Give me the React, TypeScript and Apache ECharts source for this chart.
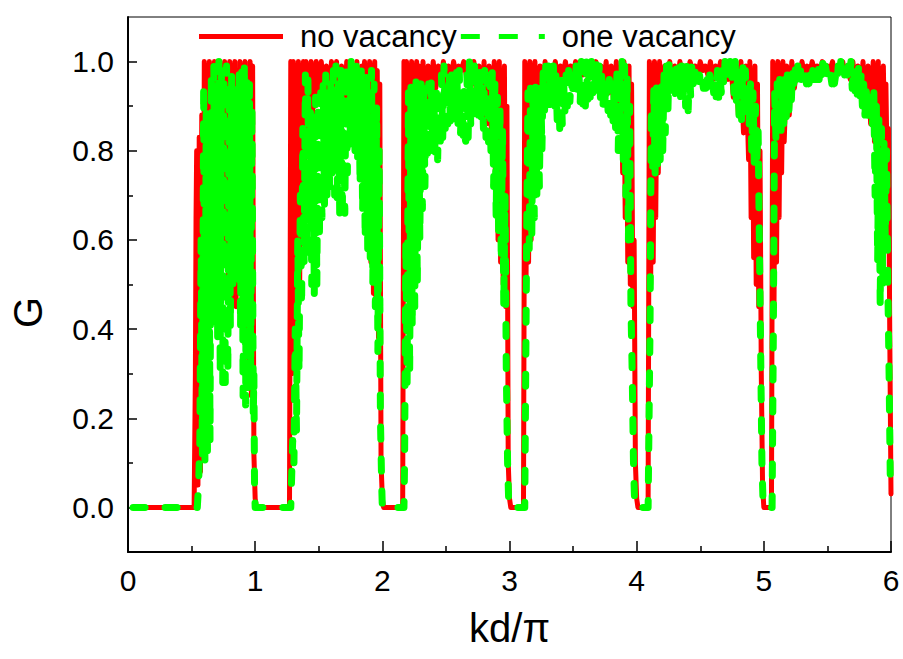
import React, { useEffect, useRef } from "react";
import * as echarts from "echarts";

// x = kd/pi, y = G
const noVacancyZero: [number, number][] = [[0.04, 0], [0.52, 0]];
const noVacancyBand1: [number, number][] = [
  [0.53, 0.3], [0.535, 0.65], [0.54, 0.8], [0.55, 0.05], [0.56, 0.83], [0.57, 0.08], [0.58, 0.88], [0.59, 0.15],
  [0.6, 1.0], [0.61, 0.3], [0.62, 0.99], [0.63, 0.4], [0.64, 1.0], [0.65, 0.48], [0.66, 0.99], [0.67, 0.5],
  [0.68, 1.0], [0.69, 0.45], [0.7, 0.98], [0.71, 0.5], [0.72, 1.0], [0.73, 0.55], [0.74, 0.99], [0.75, 0.6],
  [0.76, 1.0], [0.77, 0.55], [0.78, 0.98], [0.79, 0.5], [0.8, 1.0], [0.81, 0.5], [0.82, 0.99], [0.83, 0.47],
  [0.84, 1.0], [0.85, 0.45], [0.86, 0.98], [0.87, 0.5], [0.88, 1.0], [0.89, 0.55], [0.9, 0.99], [0.91, 0.45],
  [0.92, 1.0], [0.93, 0.35], [0.94, 0.98], [0.95, 0.3], [0.96, 1.0], [0.97, 0.25], [0.98, 0.99], [0.99, 0.12],
  [1.0, 0.02], [1.01, 0], [1.27, 0],
];
const noVacancyBand2: [number, number][] = [
  [1.28, 1.0], [1.29, 0.3], [1.3, 1.0], [1.31, 0.4], [1.32, 0.99], [1.33, 0.45], [1.34, 1.0], [1.35, 0.5],
  [1.36, 0.99], [1.37, 0.6], [1.38, 1.0], [1.39, 0.75], [1.4, 1.0], [1.41, 0.85], [1.42, 0.99], [1.43, 0.88],
  [1.44, 1.0], [1.45, 0.87], [1.46, 0.99], [1.47, 0.9], [1.48, 1.0], [1.5, 0.92], [1.52, 1.0], [1.54, 0.93],
  [1.56, 0.99], [1.58, 0.9], [1.6, 1.0], [1.62, 0.92], [1.64, 1.0], [1.66, 0.9], [1.68, 0.99], [1.7, 0.88],
  [1.72, 1.0], [1.74, 0.86], [1.76, 0.99], [1.78, 0.82], [1.8, 1.0], [1.82, 0.78], [1.84, 0.99], [1.85, 0.8],
  [1.86, 1.0], [1.87, 0.72], [1.88, 0.99], [1.89, 0.62], [1.9, 1.0], [1.91, 0.55], [1.92, 0.99], [1.93, 0.48],
  [1.94, 1.0], [1.95, 0.45], [1.96, 0.98], [1.97, 0.38], [1.98, 0.95], [1.99, 0.1], [2.0, 0.02], [2.01, 0], [2.16, 0],
];
const noVacancyBand3: [number, number][] = [
  [2.17, 1.0], [2.18, 0.5], [2.19, 1.0], [2.2, 0.6], [2.21, 0.99], [2.22, 0.7], [2.23, 1.0], [2.24, 0.78],
  [2.25, 0.99], [2.26, 0.8], [2.27, 1.0], [2.28, 0.82], [2.29, 0.99], [2.3, 0.86], [2.32, 1.0], [2.34, 0.87],
  [2.36, 0.99], [2.38, 0.93], [2.4, 1.0], [2.42, 0.94], [2.44, 0.99], [2.46, 0.95], [2.48, 1.0], [2.5, 0.95],
  [2.52, 0.99], [2.54, 0.96], [2.56, 1.0], [2.58, 0.97], [2.6, 0.99], [2.62, 0.98], [2.64, 1.0], [2.66, 0.97],
  [2.68, 0.99], [2.7, 0.95], [2.72, 1.0], [2.74, 0.93], [2.76, 0.99], [2.78, 0.9], [2.8, 1.0], [2.82, 0.86],
  [2.84, 0.99], [2.86, 0.82], [2.88, 1.0], [2.89, 0.7], [2.9, 0.99], [2.91, 0.6], [2.92, 1.0], [2.93, 0.55],
  [2.94, 0.98], [2.95, 0.5], [2.96, 0.99], [2.97, 0.45], [2.98, 0.9], [2.99, 0.1], [3.0, 0.02], [3.01, 0], [3.11, 0],
];
const noVacancyBand4: [number, number][] = [
  [3.12, 1.0], [3.13, 0.5], [3.14, 0.99], [3.15, 0.55], [3.16, 1.0], [3.17, 0.6], [3.18, 0.99], [3.19, 0.7],
  [3.2, 1.0], [3.22, 0.8], [3.24, 0.99], [3.26, 0.9], [3.28, 1.0], [3.3, 0.93], [3.32, 0.99], [3.34, 0.95],
  [3.36, 1.0], [3.38, 0.96], [3.4, 0.99], [3.42, 0.97], [3.44, 1.0], [3.46, 0.96], [3.48, 0.99], [3.5, 0.97],
  [3.52, 1.0], [3.54, 0.98], [3.56, 0.99], [3.58, 0.97], [3.6, 1.0], [3.62, 0.96], [3.64, 0.99], [3.66, 0.97],
  [3.68, 1.0], [3.7, 0.96], [3.72, 0.99], [3.74, 0.95], [3.76, 1.0], [3.78, 0.93], [3.8, 0.99], [3.82, 0.9],
  [3.84, 1.0], [3.86, 0.85], [3.88, 0.99], [3.89, 0.75], [3.9, 1.0], [3.91, 0.65], [3.92, 0.98], [3.93, 0.55],
  [3.94, 0.99], [3.95, 0.5], [3.96, 0.95], [3.97, 0.45], [3.98, 0.6], [3.99, 0.1], [4.0, 0.02], [4.01, 0], [4.09, 0],
];
const noVacancyBand5: [number, number][] = [
  [4.1, 1.0], [4.11, 0.5], [4.12, 0.99], [4.13, 0.55], [4.14, 1.0], [4.15, 0.65], [4.16, 0.99], [4.17, 0.75],
  [4.18, 1.0], [4.2, 0.85], [4.22, 0.99], [4.24, 0.93], [4.26, 1.0], [4.28, 0.95], [4.3, 0.99], [4.32, 0.95],
  [4.34, 1.0], [4.36, 0.97], [4.38, 0.99], [4.4, 0.97], [4.42, 1.0], [4.44, 0.98], [4.46, 0.99], [4.48, 0.97],
  [4.5, 1.0], [4.52, 0.98], [4.54, 0.99], [4.56, 0.97], [4.58, 1.0], [4.6, 0.96], [4.62, 0.99], [4.64, 0.97],
  [4.66, 1.0], [4.68, 0.98], [4.7, 0.99], [4.72, 0.96], [4.74, 1.0], [4.76, 0.92], [4.78, 0.99], [4.8, 0.88],
  [4.82, 1.0], [4.84, 0.84], [4.86, 0.99], [4.88, 0.78], [4.89, 1.0], [4.9, 0.65], [4.91, 0.98], [4.92, 0.56],
  [4.93, 0.99], [4.94, 0.5], [4.95, 0.95], [4.96, 0.45], [4.97, 0.8], [4.98, 0.3], [4.99, 0.05], [5.0, 0.0], [5.06, 0],
];
const noVacancyBand6: [number, number][] = [
  [5.07, 1.0], [5.08, 0.45], [5.09, 0.99], [5.1, 0.55], [5.11, 1.0], [5.12, 0.65], [5.13, 0.99], [5.14, 0.75],
  [5.15, 1.0], [5.16, 0.82], [5.18, 0.99], [5.2, 0.88], [5.22, 1.0], [5.24, 0.94], [5.26, 0.99], [5.28, 0.96],
  [5.3, 1.0], [5.32, 0.97], [5.34, 0.99], [5.36, 0.97], [5.38, 1.0], [5.4, 0.98], [5.42, 0.99], [5.44, 0.97],
  [5.46, 1.0], [5.48, 0.98], [5.5, 0.99], [5.52, 0.98], [5.54, 1.0], [5.56, 0.97], [5.58, 0.99], [5.6, 0.98],
  [5.62, 1.0], [5.64, 0.97], [5.66, 0.99], [5.68, 0.96], [5.7, 1.0], [5.72, 0.95], [5.74, 0.99], [5.76, 0.93],
  [5.78, 1.0], [5.8, 0.9], [5.82, 0.99], [5.84, 0.86], [5.86, 1.0], [5.87, 0.82], [5.88, 0.99], [5.89, 0.79],
  [5.9, 1.0], [5.91, 0.78], [5.92, 0.98], [5.93, 0.78], [5.94, 0.99], [5.95, 0.8], [5.96, 0.95], [5.97, 0.75],
  [5.98, 0.85], [5.99, 0.4], [6.0, 0.03],
];

const oneVacancyZero: [number, number][] = [[0.04, 0], [0.545, 0]];
const oneVacancyBand1: [number, number][] = [
  [0.555, 0.05], [0.565, 0.15], [0.575, 0.6], [0.585, 0.12], [0.595, 0.95], [0.605, 0.1], [0.615, 0.9], [0.625, 0.12],
  [0.635, 0.85], [0.645, 0.15], [0.655, 0.97], [0.665, 0.4], [0.675, 0.99], [0.685, 0.45], [0.695, 0.95], [0.705, 0.38],
  [0.715, 1.0], [0.725, 0.3], [0.735, 0.98], [0.745, 0.28], [0.755, 0.97], [0.765, 0.28], [0.775, 0.99], [0.785, 0.3],
  [0.795, 0.95], [0.805, 0.4], [0.815, 0.97], [0.825, 0.5], [0.835, 0.92], [0.845, 0.55], [0.855, 0.95], [0.865, 0.5],
  [0.875, 0.99], [0.885, 0.4], [0.895, 0.98], [0.905, 0.25], [0.915, 1.0], [0.925, 0.23], [0.935, 0.97], [0.945, 0.25],
  [0.955, 0.95], [0.965, 0.3], [0.975, 0.9], [0.985, 0.2], [0.99, 0.3], [0.995, 0.05], [1.0, 0.0], [1.28, 0],
];
const oneVacancyBand2: [number, number][] = [
  [1.285, 0.05], [1.295, 0.15], [1.305, 0.1], [1.315, 0.4], [1.325, 0.17], [1.335, 0.6], [1.345, 0.3], [1.355, 0.7],
  [1.365, 0.45], [1.375, 0.85], [1.385, 0.55], [1.395, 0.97], [1.405, 0.58], [1.415, 0.96], [1.425, 0.55], [1.435, 0.9],
  [1.445, 0.5], [1.455, 0.88], [1.465, 0.48], [1.475, 0.92], [1.485, 0.5], [1.495, 0.9], [1.505, 0.6], [1.515, 0.93],
  [1.525, 0.65], [1.535, 0.95], [1.545, 0.68], [1.555, 0.97], [1.565, 0.7], [1.575, 0.93], [1.585, 0.72], [1.595, 0.95],
  [1.605, 0.75], [1.615, 0.98], [1.625, 0.7], [1.635, 0.99], [1.645, 0.68], [1.655, 0.95], [1.665, 0.65], [1.675, 0.98],
  [1.685, 0.65], [1.695, 0.96], [1.705, 0.66], [1.715, 0.99], [1.725, 0.75], [1.735, 0.97], [1.745, 0.8], [1.755, 1.0],
  [1.765, 0.82], [1.775, 0.97], [1.785, 0.8], [1.795, 0.99], [1.805, 0.78], [1.815, 0.96], [1.825, 0.72], [1.835, 0.98],
  [1.845, 0.66], [1.855, 0.95], [1.865, 0.6], [1.875, 0.97], [1.885, 0.58], [1.895, 0.93], [1.905, 0.56], [1.915, 0.98],
  [1.925, 0.5], [1.935, 0.95], [1.945, 0.45], [1.955, 0.9], [1.965, 0.35], [1.975, 0.8], [1.985, 0.2], [1.995, 0.05],
  [2.0, 0.0], [2.17, 0],
];
const oneVacancyBand3: [number, number][] = [
  [2.175, 0.1], [2.185, 0.6], [2.195, 0.28], [2.205, 0.93], [2.215, 0.3], [2.225, 0.95], [2.235, 0.4], [2.245, 0.92],
  [2.255, 0.45], [2.265, 0.96], [2.275, 0.5], [2.285, 0.93], [2.295, 0.6], [2.305, 0.95], [2.315, 0.67], [2.325, 0.94],
  [2.335, 0.72], [2.345, 0.92], [2.355, 0.78], [2.365, 0.95], [2.375, 0.8], [2.385, 0.96], [2.395, 0.8], [2.405, 0.93],
  [2.415, 0.79], [2.425, 0.95], [2.435, 0.78], [2.445, 0.92], [2.455, 0.8], [2.465, 0.97], [2.475, 0.83], [2.485, 0.99],
  [2.495, 0.85], [2.505, 0.96], [2.515, 0.86], [2.525, 0.98], [2.535, 0.86], [2.545, 0.97], [2.555, 0.86], [2.565, 0.95],
  [2.575, 0.87], [2.585, 0.99], [2.595, 0.86], [2.605, 0.98], [2.615, 0.84], [2.625, 0.93], [2.635, 0.82], [2.645, 0.95],
  [2.655, 0.8], [2.665, 0.97], [2.675, 0.83], [2.685, 1.0], [2.695, 0.86], [2.705, 0.98], [2.715, 0.87], [2.725, 0.99],
  [2.735, 0.88], [2.745, 0.97], [2.755, 0.88], [2.765, 0.99], [2.775, 0.87], [2.785, 0.96], [2.795, 0.85], [2.805, 0.98],
  [2.815, 0.83], [2.825, 0.97], [2.835, 0.82], [2.845, 0.96], [2.855, 0.78], [2.865, 0.98], [2.875, 0.72], [2.885, 0.95],
  [2.895, 0.65], [2.905, 0.92], [2.915, 0.6], [2.925, 0.9], [2.935, 0.55], [2.945, 0.85], [2.955, 0.45], [2.965, 0.7],
  [2.975, 0.3], [2.985, 0.1], [2.995, 0.0], [3.12, 0],
];
const oneVacancyBand4: [number, number][] = [
  [3.135, 0.6], [3.145, 0.93], [3.155, 0.58], [3.165, 0.94], [3.175, 0.6], [3.185, 0.93], [3.195, 0.65], [3.205, 0.95],
  [3.215, 0.7], [3.225, 0.94], [3.235, 0.72], [3.245, 0.96], [3.255, 0.8], [3.265, 0.98], [3.275, 0.88], [3.285, 0.99],
  [3.295, 0.89], [3.305, 0.99], [3.315, 0.9], [3.325, 1.0], [3.335, 0.91], [3.345, 0.99], [3.355, 0.88], [3.365, 0.97],
  [3.375, 0.87], [3.385, 0.96], [3.395, 0.85], [3.405, 0.97], [3.415, 0.86], [3.425, 0.96], [3.435, 0.88], [3.445, 0.97],
  [3.455, 0.9], [3.465, 0.98], [3.475, 0.91], [3.485, 0.97], [3.495, 0.92], [3.505, 0.99], [3.515, 0.93], [3.525, 1.0],
  [3.535, 0.92], [3.545, 0.99], [3.555, 0.9], [3.565, 1.0], [3.575, 0.89], [3.585, 0.99], [3.595, 0.88], [3.605, 1.0],
  [3.615, 0.9], [3.625, 0.99], [3.635, 0.92], [3.645, 1.0], [3.655, 0.93], [3.665, 0.99], [3.675, 0.94], [3.685, 1.0],
  [3.695, 0.93], [3.705, 0.99], [3.715, 0.92], [3.725, 0.97], [3.735, 0.9], [3.745, 0.96], [3.755, 0.9], [3.765, 0.95],
  [3.775, 0.89], [3.785, 0.96], [3.795, 0.88], [3.805, 0.95], [3.815, 0.86], [3.825, 0.96], [3.835, 0.84], [3.845, 0.98],
  [3.855, 0.8], [3.865, 0.99], [3.875, 0.8], [3.885, 1.0], [3.895, 0.78], [3.905, 0.99], [3.915, 0.7], [3.925, 0.97],
  [3.935, 0.6], [3.945, 0.9], [3.955, 0.45], [3.965, 0.3], [3.975, 0.1], [3.985, 0.0], [4.09, 0],
];
const oneVacancyBand5: [number, number][] = [
  [4.105, 0.4], [4.115, 0.9], [4.125, 0.75], [4.135, 0.94], [4.145, 0.75], [4.155, 0.95], [4.165, 0.76], [4.175, 0.94],
  [4.185, 0.78], [4.195, 0.96], [4.205, 0.8], [4.215, 0.97], [4.225, 0.84], [4.235, 0.99], [4.245, 0.88], [4.255, 1.0],
  [4.265, 0.92], [4.275, 1.0], [4.285, 0.93], [4.295, 0.99], [4.305, 0.92], [4.315, 1.0], [4.325, 0.93], [4.335, 0.99],
  [4.345, 0.92], [4.355, 1.0], [4.365, 0.91], [4.375, 0.99], [4.385, 0.9], [4.395, 1.0], [4.405, 0.89], [4.415, 0.99],
  [4.425, 0.92], [4.435, 1.0], [4.445, 0.95], [4.455, 0.99], [4.465, 0.96], [4.475, 0.98], [4.485, 0.95], [4.495, 0.97],
  [4.505, 0.94], [4.515, 0.96], [4.525, 0.94], [4.535, 0.97], [4.545, 0.94], [4.555, 0.96], [4.565, 0.94], [4.575, 0.97],
  [4.585, 0.94], [4.595, 0.96], [4.605, 0.93], [4.615, 0.97], [4.625, 0.92], [4.635, 0.98], [4.645, 0.92], [4.655, 0.97],
  [4.665, 0.93], [4.675, 0.98], [4.685, 0.95], [4.695, 1.0], [4.705, 0.96], [4.715, 0.99], [4.725, 0.96], [4.735, 1.0],
  [4.745, 0.95], [4.755, 0.99], [4.765, 0.93], [4.775, 1.0], [4.785, 0.9], [4.795, 0.99], [4.805, 0.88], [4.815, 0.98],
  [4.825, 0.87], [4.835, 0.99], [4.845, 0.87], [4.855, 0.98], [4.865, 0.88], [4.875, 0.96], [4.885, 0.86], [4.895, 0.95],
  [4.905, 0.8], [4.915, 0.93], [4.925, 0.77], [4.935, 0.9], [4.945, 0.78], [4.955, 0.85], [4.965, 0.6], [4.975, 0.35],
  [4.985, 0.1], [4.995, 0.0], [5.065, 0],
];
const oneVacancyBand6: [number, number][] = [
  [5.075, 0.4], [5.085, 0.93], [5.095, 0.83], [5.105, 0.95], [5.115, 0.84], [5.125, 0.96], [5.135, 0.84], [5.145, 0.95],
  [5.155, 0.85], [5.165, 0.96], [5.175, 0.86], [5.185, 0.97], [5.195, 0.87], [5.205, 0.96], [5.215, 0.9], [5.225, 0.98],
  [5.235, 0.95], [5.245, 0.99], [5.255, 0.96], [5.265, 1.0], [5.275, 0.96], [5.285, 0.99], [5.295, 0.96], [5.305, 0.98],
  [5.315, 0.96], [5.325, 0.97], [5.335, 0.95], [5.345, 0.98], [5.355, 0.95], [5.365, 0.97], [5.375, 0.95], [5.385, 0.98],
  [5.395, 0.96], [5.405, 0.99], [5.415, 0.96], [5.425, 1.0], [5.435, 0.96], [5.445, 0.99], [5.455, 0.97], [5.465, 1.0],
  [5.475, 0.97], [5.485, 0.99], [5.495, 0.97], [5.505, 0.98], [5.515, 0.96], [5.525, 0.97], [5.535, 0.95], [5.545, 0.98],
  [5.555, 0.95], [5.565, 0.97], [5.575, 0.95], [5.585, 0.99], [5.595, 0.96], [5.605, 1.0], [5.615, 0.97], [5.625, 0.99],
  [5.635, 0.97], [5.645, 1.0], [5.655, 0.97], [5.665, 0.99], [5.675, 0.96], [5.685, 1.0], [5.695, 0.94], [5.705, 0.99],
  [5.715, 0.92], [5.725, 0.98], [5.735, 0.92], [5.745, 0.99], [5.755, 0.91], [5.765, 0.97], [5.775, 0.9], [5.785, 0.95],
  [5.795, 0.88], [5.805, 0.94], [5.815, 0.87], [5.825, 0.93], [5.835, 0.87], [5.845, 0.92], [5.855, 0.86], [5.865, 0.93],
  [5.875, 0.7], [5.885, 0.9], [5.895, 0.55], [5.905, 0.88], [5.915, 0.45], [5.925, 0.85], [5.935, 0.5], [5.945, 0.82],
  [5.955, 0.6], [5.965, 0.8], [5.975, 0.5], [5.985, 0.3], [5.995, 0.05],
];

const seriesNames = ["no vacancy", "one vacancy"];
const yMajorTicks = [0, 0.2, 0.4, 0.6, 0.8, 1.0];
const yMinorTicks = [0.1, 0.3, 0.5, 0.7, 0.9];

const noVacancy = [
  ...noVacancyZero, ...noVacancyBand1, ...noVacancyBand2, ...noVacancyBand3,
  ...noVacancyBand4, ...noVacancyBand5, ...noVacancyBand6,
];
const oneVacancy = [
  ...oneVacancyZero, ...oneVacancyBand1, ...oneVacancyBand2, ...oneVacancyBand3,
  ...oneVacancyBand4, ...oneVacancyBand5, ...oneVacancyBand6,
];

const FONT = "'Liberation Sans', Arial, Helvetica, sans-serif";
const SOLID_ICON = "path://M0,0h84v5h-84z";
const DASH_ICON = "path://M0,0h19v5h-19z M38,0h19v5h-19z M78,0h6v5h-6z";

export default function App() {
  const ref = useRef<HTMLDivElement>(null);
  useEffect(() => {
    document.body.style.margin = "0";
    if (!ref.current) return;
    const chart = echarts.init(ref.current, undefined, { renderer: "svg" });
    chart.setOption({
      animation: false,
      backgroundColor: "#ffffff",
      textStyle: { fontFamily: FONT },
      grid: {
        left: 126, right: 12, top: 17, bottom: 107,
        show: true, borderColor: "#000", borderWidth: 1, backgroundColor: "transparent",
      },
      legend: {
        data: [
          { name: seriesNames[0], icon: SOLID_ICON },
          { name: seriesNames[1], icon: DASH_ICON },
        ],
        top: 21,
        left: 199,
        itemWidth: 84,
        itemHeight: 5,
        itemGap: 4,
        padding: 0,
        textStyle: { fontSize: 31, color: "#000", fontFamily: FONT, padding: [0, 0, 0, 12] },
      },
      xAxis: {
        type: "value",
        min: 0,
        max: 6,
        interval: 1,
        name: "kd/π",
        nameLocation: "middle",
        nameGap: 56,
        nameTextStyle: { fontSize: 40, color: "#000", fontFamily: FONT },
        axisLine: { show: true, onZero: false, lineStyle: { color: "#000", width: 2 } },
        axisTick: { show: true, inside: true, length: 11, lineStyle: { color: "#000", width: 1.5 } },
        minorTick: { show: true, splitNumber: 2, length: 6, lineStyle: { color: "#000", width: 1.5 } },
        axisLabel: { fontSize: 30, color: "#000", margin: 13, fontFamily: FONT },
        splitLine: { show: false },
        minorSplitLine: { show: false },
      },
      yAxis: [
        {
          type: "value",
          min: -0.1,
          max: 1.1,
          name: "G",
          nameLocation: "middle",
          nameGap: 80,
          nameTextStyle: { fontSize: 40, color: "#000", fontFamily: FONT, padding: [0, 56, 0, 0] },
          axisLine: { show: true, onZero: false, lineStyle: { color: "#000", width: 2 } },
          axisTick: { show: true, inside: true, length: 9, customValues: yMajorTicks, lineStyle: { color: "#000", width: 1.5 } },
          axisLabel: {
            fontSize: 30, color: "#000", margin: 14, fontFamily: FONT,
            customValues: yMajorTicks,
            formatter: (v: number) => v.toFixed(1),
          },
          splitLine: { show: false },
        },
        {
          type: "value",
          min: -0.1,
          max: 1.1,
          position: "left",
          axisLine: { show: false },
          axisTick: { show: true, inside: true, length: 5, customValues: yMinorTicks, lineStyle: { color: "#000", width: 1.5 } },
          axisLabel: { show: false },
          splitLine: { show: false },
        },
      ],
      series: [
        {
          name: seriesNames[0],
          type: "line",
          data: noVacancy,
          symbol: "none",
          showSymbol: false,
          yAxisIndex: 0,
          color: "#ff0000",
          lineStyle: { color: "#ff0000", width: 5, cap: "round", join: "round" },
          z: 2,
        },
        {
          name: seriesNames[1],
          type: "line",
          data: oneVacancy,
          symbol: "none",
          showSymbol: false,
          yAxisIndex: 0,
          color: "#00ff00",
          lineStyle: { color: "#00ff00", width: 7, type: [12, 20], cap: "round", join: "round" },
          z: 3,
        },
      ],
    });
    return () => chart.dispose();
  }, []);
  return (
    <div
      ref={ref}
      style={{ position: "fixed", left: 0, top: 0, width: 903, height: 659, background: "#fff" }}
    />
  );
}
